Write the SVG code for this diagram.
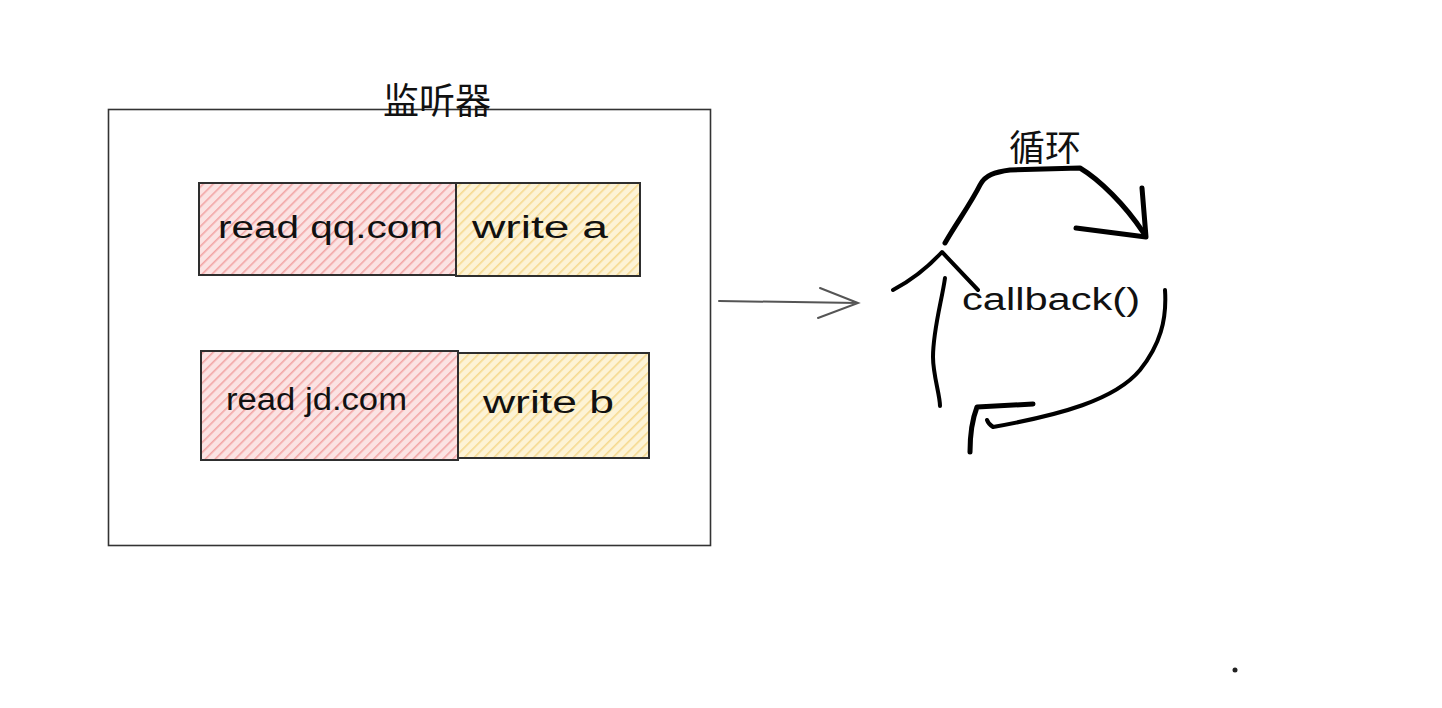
<svg xmlns="http://www.w3.org/2000/svg" width="1442" height="708" viewBox="0 0 1442 708">
<defs>
<pattern id="hRed" patternUnits="userSpaceOnUse" width="7" height="7" patternTransform="rotate(45)">
<rect width="7" height="7" fill="#fbe3e3"/>
<line x1="0" y1="0" x2="0" y2="7" stroke="#f2a5a5" stroke-width="3.2"/>
</pattern>
<pattern id="hYel" patternUnits="userSpaceOnUse" width="7" height="7" patternTransform="rotate(45)">
<rect width="7" height="7" fill="#fdf3d6"/>
<line x1="0" y1="0" x2="0" y2="7" stroke="#f6d98e" stroke-width="3.2"/>
</pattern>
<style>
.box{stroke:#2e2e2e;stroke-width:2;}
.lbl{font-family:"Liberation Sans","Noto Sans",sans-serif;font-size:31px;fill:#111;}
.cn{font-family:"Noto Sans CJK SC",sans-serif;fill:#111;text-anchor:middle;}
.thick{fill:none;stroke:#000;stroke-width:5;stroke-linecap:round;stroke-linejoin:round;}
.mid{fill:none;stroke:#000;stroke-width:4;stroke-linecap:round;stroke-linejoin:round;}
</style>
</defs>
<rect width="1442" height="708" fill="#fff"/>
<g id="listener">
<rect x="108.5" y="109.5" width="602" height="436" fill="none" stroke="#333" stroke-width="1.6"/>
<text class="cn" x="437" y="114" font-size="36">监听器</text>
</g>
<g id="read-qq">
<rect class="box" x="199" y="183" width="257" height="92" fill="url(#hRed)"/>
<text class="lbl" x="218" y="238" textLength="225" lengthAdjust="spacingAndGlyphs">read qq.com</text>
</g>
<g id="write-a">
<rect class="box" x="456" y="183" width="184" height="93" fill="url(#hYel)"/>
<text class="lbl" x="472" y="238" textLength="136" lengthAdjust="spacingAndGlyphs">write a</text>
</g>
<g id="read-jd">
<rect class="box" x="201" y="351" width="257" height="109" fill="url(#hRed)"/>
<text class="lbl" x="226" y="410" textLength="181" lengthAdjust="spacingAndGlyphs">read jd.com</text>
</g>
<g id="write-b">
<rect class="box" x="458" y="353" width="191" height="105" fill="url(#hYel)"/>
<text class="lbl" x="483" y="413" textLength="131" lengthAdjust="spacingAndGlyphs">write b</text>
</g>
<g id="loop">
<text class="cn" x="1045" y="161" font-size="36">循环</text>
<text class="lbl" x="962" y="310" font-size="29" textLength="178" lengthAdjust="spacingAndGlyphs">callback()</text>
<path class="thick" d="M945,243 C955,225 970,205 980,185 C985,175 995,172 1010,170 L1080,168 C1100,180 1125,205 1143,232"/>
<path class="thick" d="M1142,188 L1146,237 M1076,228 L1146,237"/>
<path class="mid" d="M893,290 C912,280 930,265 942,252 L978,290"/>
<path class="mid" d="M945,278 C942,300 933,330 933,357 C933,375 940,395 940,406"/>
<path class="mid" d="M1165,290 C1167,320 1160,345 1140,370 C1115,400 1060,415 993,427 C990,425 988,423 987,420"/>
<path class="thick" d="M1033,404 L977,407 C972,420 970,438 970,452"/>
</g>
<g id="connectors">
<path d="M719,301 L858,303 M820,288 L858,303 L818,318" fill="none" stroke="#555" stroke-width="2" stroke-linecap="round"/>
</g>
<circle cx="1235" cy="670" r="2.5" fill="#222"/>
</svg>
